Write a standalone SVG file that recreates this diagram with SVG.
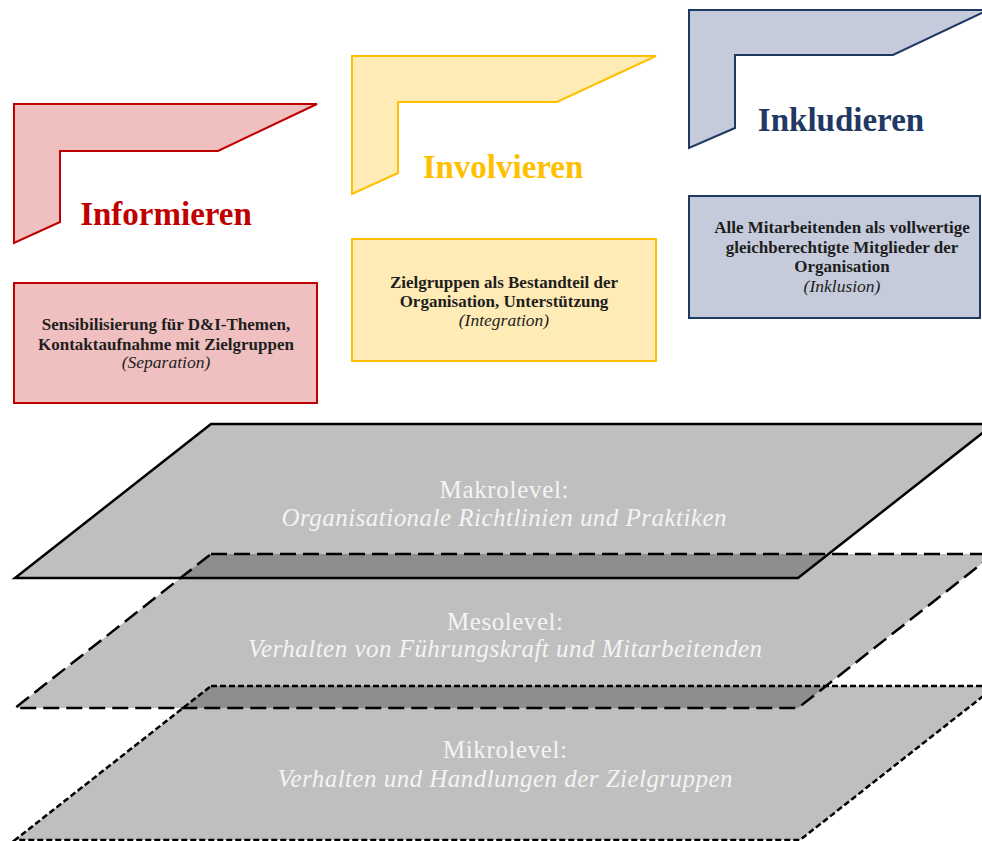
<svg xmlns="http://www.w3.org/2000/svg" width="982" height="841" viewBox="0 0 982 841">
<style>
.step{stroke-width:2;stroke-linejoin:miter}
.red{fill:#F0C0C0;stroke:#C00000}
.yel{fill:#FFEBB6;stroke:#FFC000}
.blu{fill:#C5CBDA;stroke:#1F3864}
.lbl{font-family:"Liberation Serif","Times New Roman",serif;font-weight:bold;font-size:33px;text-anchor:middle}
.box{stroke-width:2}
.bt{font-family:"Liberation Serif","Times New Roman",serif;font-weight:bold;font-size:17px;text-anchor:middle;fill:#1E1E1E}
.bi{font-family:"Liberation Serif","Times New Roman",serif;font-style:italic;font-size:17.5px;text-anchor:middle;fill:#1E1E1E}
.lvfill{fill:#BFBFBF;stroke:none}
.ovl{fill:#8E8E8E;stroke:none}
.lvline{fill:none;stroke:#000;stroke-width:2.5;stroke-linejoin:miter}
.lt{font-family:"Liberation Serif","Times New Roman",serif;font-size:25px;text-anchor:middle;fill:#F4F4F4}
.li{font-style:italic}
</style>

<g id="step-informieren">
<path class="step red" d="M14,104 L317,104 L218,151 L60,151 L60,222 L14,243 Z"/>
<text class="lbl" x="166" y="225" fill="#C00000">Informieren</text>
</g>
<g id="step-involvieren">
<path class="step yel" d="M352,56 L656,56 L557,102 L398,102 L398,173 L352,194 Z"/>
<text class="lbl" x="503" y="178" fill="#FFC000">Involvieren</text>
</g>
<g id="step-inkludieren">
<path class="step blu" d="M689,10 L988,10 L893,55 L735,55 L735,128 L689,148 Z"/>
<text class="lbl" x="841" y="131" fill="#1F3864">Inkludieren</text>
</g>

<g id="box-separation">
<rect class="box red" x="14" y="283" width="303" height="120"/>
<text class="bt" x="166" y="330">Sensibilisierung für D&amp;I-Themen,</text>
<text class="bt" x="166" y="349.5">Kontaktaufnahme mit Zielgruppen</text>
<text class="bi" x="166" y="368">(Separation)</text>
</g>
<g id="box-integration">
<rect class="box yel" x="352" y="239" width="304" height="122"/>
<text class="bt" x="504" y="288">Zielgruppen als Bestandteil der</text>
<text class="bt" x="504" y="307">Organisation, Unterstützung</text>
<text class="bi" x="504" y="326">(Integration)</text>
</g>
<g id="box-inklusion">
<rect class="box blu" x="689" y="196" width="291" height="122"/>
<text class="bt" x="842" y="233">Alle Mitarbeitenden als vollwertige</text>
<text class="bt" x="842" y="252.5">gleichberechtigte Mitglieder der</text>
<text class="bt" x="842" y="272">Organisation</text>
<text class="bi" x="842" y="291.5">(Inklusion)</text>
</g>

<g id="level-fills">
<polygon class="lvfill" points="211,424 994,424 798,578 15,578"/>
<polygon class="lvfill" points="211,554 994,554 798,708 15,708"/>
<polygon class="lvfill" points="211,686 996,686 800,840 15,840"/>
<polygon class="ovl" points="211,554 828.5,554 798,578 180.5,578"/>
<polygon class="ovl" points="211,686 826,686 798,708 183,708"/>
</g>

<g id="level-makro">
<polygon class="lvline" points="211,424 994,424 798,578 15,578"/>
<text class="lt" x="504" y="498" textLength="129" lengthAdjust="spacing">Makrolevel:</text>
<text class="lt li" x="504" y="526" textLength="445" lengthAdjust="spacing">Organisationale Richtlinien und Praktiken</text>
</g>
<g id="level-meso">
<polygon class="lvline" points="211,554 994,554 798,708 15,708" stroke-dasharray="16 7"/>
<text class="lt" x="505" y="630" textLength="116" lengthAdjust="spacing">Mesolevel:</text>
<text class="lt li" x="505" y="657" textLength="514" lengthAdjust="spacing">Verhalten von Führungskraft und Mitarbeitenden</text>
</g>
<g id="level-mikro">
<polygon class="lvline" points="211,686 996,686 800,840 15,840" stroke-dasharray="6 3"/>
<text class="lt" x="505" y="758" textLength="124" lengthAdjust="spacing">Mikrolevel:</text>
<text class="lt li" x="505" y="787" textLength="455" lengthAdjust="spacing">Verhalten und Handlungen der Zielgruppen</text>
</g>

<g id="connectors"></g>
</svg>
